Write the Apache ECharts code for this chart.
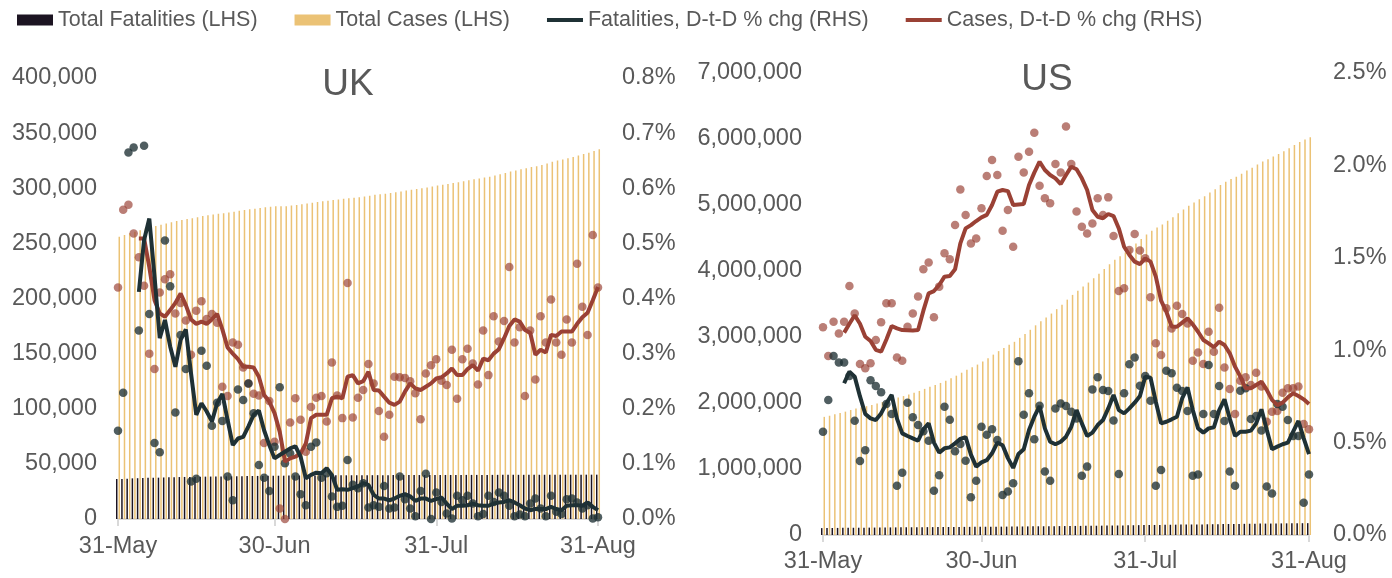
<!DOCTYPE html>
<html>
<head>
<meta charset="utf-8">
<script src="https://cdn.jsdelivr.net/npm/echarts@6/dist/echarts.min.js"></script>
<style>
  html, body { margin: 0; padding: 0; background: #fff; }
  #chart { width: 1392px; height: 578px; }
</style>
</head>
<body>
<div id="chart"></div>
<script>
const days = ['31-May',
  '1-Jun','2-Jun','3-Jun','4-Jun','5-Jun','6-Jun','7-Jun','8-Jun','9-Jun','10-Jun','11-Jun','12-Jun','13-Jun','14-Jun','15-Jun',
  '16-Jun','17-Jun','18-Jun','19-Jun','20-Jun','21-Jun','22-Jun','23-Jun','24-Jun','25-Jun','26-Jun','27-Jun','28-Jun','29-Jun','30-Jun',
  '1-Jul','2-Jul','3-Jul','4-Jul','5-Jul','6-Jul','7-Jul','8-Jul','9-Jul','10-Jul','11-Jul','12-Jul','13-Jul','14-Jul','15-Jul','16-Jul',
  '17-Jul','18-Jul','19-Jul','20-Jul','21-Jul','22-Jul','23-Jul','24-Jul','25-Jul','26-Jul','27-Jul','28-Jul','29-Jul','30-Jul','31-Jul',
  '1-Aug','2-Aug','3-Aug','4-Aug','5-Aug','6-Aug','7-Aug','8-Aug','9-Aug','10-Aug','11-Aug','12-Aug','13-Aug','14-Aug','15-Aug','16-Aug',
  '17-Aug','18-Aug','19-Aug','20-Aug','21-Aug','22-Aug','23-Aug','24-Aug','25-Aug','26-Aug','27-Aug','28-Aug','29-Aug','30-Aug','31-Aug'];
const tickLabels = ['31-May', '30-Jun', '31-Jul', '31-Aug'];

// UK
const ukCases = [256100, 257600, 259100, 260500, 261800, 263500, 265100, 265800, 266900, 268000,
  269200, 270200, 271200, 272100, 272900, 273800, 274800, 275600, 276200, 276800,
  277300, 277900, 278700, 279500, 280300, 280900, 281500, 282100, 282700, 283200,
  283600, 283700, 283700, 284300, 284900, 285500, 286200, 286900, 287500, 288100,
  288600, 289300, 289900, 290400, 291000, 291400, 291800, 292500, 293300, 294000,
  294600, 295100, 295600, 296400, 297100, 297900, 298600, 299300, 299900, 300700,
  301500, 302400, 303100, 303900, 304800, 305500, 306400, 307300, 308100, 308800,
  309800, 310500, 311600, 312700, 313800, 315200, 316200, 317300, 318100, 319200,
  320000, 321200, 322500, 324100, 325100, 326100, 327300, 328300, 329800, 331100,
  332200, 333900, 335300];
const ukDeaths = [36300, 36380, 36620, 36870, 37000, 37250, 37390, 37440, 37490, 37680,
  37840, 37910, 38040, 38140, 38170, 38200, 38320, 38420, 38490, 38570,
  38640, 38670, 38680, 38770, 38860, 38950, 39030, 39070, 39100, 39120,
  39170, 39260, 39300, 39350, 39380, 39400, 39410, 39460, 39510, 39540,
  39570, 39590, 39600, 39610, 39650, 39680, 39700, 39730, 39740, 39750,
  39760, 39780, 39790, 39800, 39830, 39840, 39850, 39850, 39870, 39900,
  39900, 39920, 39930, 39940, 39940, 39960, 39970, 39990, 40000, 40000,
  40000, 40020, 40030, 40050, 40070, 40080, 40080, 40080, 40090, 40100,
  40110, 40120, 40120, 40140, 40140, 40150, 40160, 40180, 40190, 40200,
  40210, 40210, 40210];
const ukDeathPct = [0.160, 0.229, 0.665, 0.674, 0.342, 0.677, 0.372, 0.138, 0.121, 0.505,
  0.422, 0.193, 0.334, 0.272, 0.068, 0.073, 0.305, 0.278, 0.169, 0.211,
  0.178, 0.077, 0.034, 0.235, 0.216, 0.246, 0.192, 0.098, 0.075, 0.051,
  0.131, 0.239, 0.101, 0.119, 0.077, 0.045, 0.025, 0.131, 0.139, 0.075,
  0.083, 0.041, 0.022, 0.024, 0.107, 0.062, 0.056, 0.065, 0.021, 0.025,
  0.022, 0.060, 0.019, 0.021, 0.077, 0.036, 0.019, 0.005, 0.051, 0.082,
  0.000, 0.048, 0.031, 0.010, 0.001, 0.042, 0.034, 0.042, 0.028, 0.005,
  0.009, 0.042, 0.031, 0.048, 0.042, 0.024, 0.005, 0.008, 0.005, 0.028,
  0.037, 0.019, 0.005, 0.042, 0.013, 0.009, 0.036, 0.037, 0.030, 0.019,
  0.025, 0.001, 0.003];
const ukDeathLine = [null, null, null, null, 0.412, 0.506, 0.545, 0.440, 0.328, 0.361,
  0.313, 0.276, 0.325, 0.344, 0.264, 0.189, 0.210, 0.195, 0.177, 0.210,
  0.227, 0.180, 0.134, 0.146, 0.149, 0.168, 0.189, 0.197, 0.161, 0.134,
  0.110, 0.116, 0.122, 0.128, 0.132, 0.113, 0.074, 0.080, 0.084, 0.083,
  0.092, 0.080, 0.053, 0.054, 0.053, 0.056, 0.059, 0.065, 0.062, 0.044,
  0.037, 0.037, 0.034, 0.037, 0.042, 0.045, 0.041, 0.033, 0.037, 0.037,
  0.033, 0.036, 0.039, 0.028, 0.018, 0.024, 0.024, 0.025, 0.028, 0.025,
  0.024, 0.024, 0.028, 0.030, 0.031, 0.034, 0.030, 0.025, 0.019, 0.016,
  0.018, 0.018, 0.018, 0.022, 0.018, 0.016, 0.024, 0.025, 0.025, 0.024,
  0.030, 0.022, 0.016];
const ukCasePct = [0.420, 0.561, 0.570, 0.518, 0.475, 0.423, 0.300, 0.272, 0.411, 0.435,
  0.444, 0.373, 0.392, 0.360, 0.298, 0.378, 0.395, 0.363, 0.372, 0.356,
  0.240, 0.223, 0.320, 0.316, 0.275, 0.246, 0.227, 0.224, 0.138, 0.214,
  0.140, 0.019, 0.000, 0.175, 0.219, 0.180, 0.122, 0.203, 0.220, 0.223,
  0.177, 0.284, 0.224, 0.183, 0.428, 0.184, 0.220, 0.234, 0.281, 0.246,
  0.196, 0.149, 0.189, 0.258, 0.257, 0.256, 0.250, 0.228, 0.181, 0.264,
  0.279, 0.290, 0.251, 0.243, 0.307, 0.218, 0.290, 0.309, 0.282, 0.244,
  0.342, 0.261, 0.368, 0.322, 0.359, 0.457, 0.320, 0.348, 0.223, 0.342,
  0.253, 0.368, 0.320, 0.398, 0.320, 0.298, 0.362, 0.320, 0.463, 0.385,
  0.334, 0.515, 0.420];
const ukCaseLine = [null, null, null, null, 0.509, 0.509, 0.457, 0.397, 0.373, 0.367,
  0.379, 0.392, 0.409, 0.388, 0.362, 0.354, 0.358, 0.354, 0.362, 0.372,
  0.344, 0.311, 0.300, 0.290, 0.276, 0.276, 0.275, 0.258, 0.225, 0.213,
  0.192, 0.158, 0.104, 0.110, 0.113, 0.119, 0.137, 0.183, 0.189, 0.189,
  0.189, 0.219, 0.222, 0.219, 0.258, 0.261, 0.246, 0.250, 0.267, 0.234,
  0.233, 0.222, 0.211, 0.207, 0.213, 0.231, 0.246, 0.237, 0.234, 0.240,
  0.246, 0.255, 0.257, 0.264, 0.273, 0.261, 0.261, 0.272, 0.279, 0.269,
  0.291, 0.288, 0.300, 0.308, 0.328, 0.350, 0.362, 0.358, 0.343, 0.338,
  0.298, 0.307, 0.302, 0.334, 0.332, 0.340, 0.340, 0.340, 0.354, 0.366,
  0.374, 0.397, 0.421];

// US
const usCases = [1790000, 1807000, 1828000, 1848000, 1869000, 1894000, 1917000, 1935000, 1952000, 1970000,
  1991000, 2014000, 2039000, 2065000, 2085000, 2105000, 2129000, 2155000, 2183000, 2214000,
  2247000, 2273000, 2304000, 2339000, 2374000, 2414000, 2459000, 2502000, 2541000, 2582000,
  2628000, 2679000, 2733000, 2786000, 2832000, 2882000, 2927000, 2987000, 3046000, 3109000,
  3177000, 3237000, 3296000, 3355000, 3422000, 3489000, 3566000, 3638000, 3702000, 3764000,
  3825000, 3889000, 3960000, 4029000, 4103000, 4169000, 4224000, 4280000, 4346000, 4417000,
  4485000, 4552000, 4611000, 4659000, 4704000, 4762000, 4815000, 4875000, 4933000, 4989000,
  5036000, 5086000, 5133000, 5189000, 5240000, 5304000, 5352000, 5394000, 5429000, 5474000,
  5521000, 5566000, 5615000, 5660000, 5695000, 5733000, 5771000, 5815000, 5861000, 5908000,
  5955000, 5991000, 6025000];
const usDeaths = [104400, 105200, 106200, 107200, 108200, 109100, 109800, 110200, 110700, 111700,
  112600, 113400, 114200, 115000, 115300, 115700, 116500, 117200, 117900, 118600,
  119200, 119500, 119900, 120700, 121500, 122000, 122600, 123100, 123400, 123700,
  124400, 125100, 125800, 126500, 126700, 127000, 127400, 128600, 129400, 130400,
  131100, 132000, 132500, 132900, 133800, 134700, 135700, 136600, 137400, 137900,
  138400, 139500, 140600, 141700, 142800, 143700, 144200, 145300, 146600, 148100,
  149300, 150500, 151600, 152000, 152600, 153900, 155300, 156500, 157700, 158800,
  159300, 159800, 160900, 162300, 163400, 164700, 165700, 166300, 166700, 168000,
  169400, 170400, 171500, 172500, 172900, 173300, 174500, 175700, 176800, 177800,
  178700, 179000, 179600];
const usDeathPct = [0.559, 0.731, 0.969, 0.933, 0.933, 0.860, 0.618, 0.400, 0.458, 0.838,
  0.806, 0.772, 0.709, 0.655, 0.267, 0.337, 0.716, 0.637, 0.595, 0.561,
  0.510, 0.240, 0.323, 0.694, 0.624, 0.453, 0.492, 0.402, 0.204, 0.294,
  0.586, 0.543, 0.572, 0.514, 0.216, 0.236, 0.280, 0.940, 0.651, 0.767,
  0.518, 0.700, 0.343, 0.294, 0.685, 0.712, 0.698, 0.667, 0.631, 0.321,
  0.370, 0.788, 0.853, 0.785, 0.779, 0.619, 0.330, 0.767, 0.924, 0.960,
  0.808, 0.860, 0.727, 0.267, 0.352, 0.889, 0.875, 0.797, 0.779, 0.671,
  0.321, 0.328, 0.655, 0.920, 0.655, 0.806, 0.617, 0.343, 0.267, 0.781,
  0.794, 0.628, 0.644, 0.565, 0.262, 0.225, 0.709, 0.694, 0.622, 0.536,
  0.536, 0.175, 0.328];
const usDeathLine = [null, null, null, null, 0.821, 0.884, 0.857, 0.750, 0.655, 0.631,
  0.622, 0.658, 0.712, 0.758, 0.630, 0.550, 0.536, 0.523, 0.510, 0.572,
  0.604, 0.500, 0.446, 0.469, 0.474, 0.496, 0.520, 0.530, 0.435, 0.370,
  0.393, 0.405, 0.442, 0.500, 0.486, 0.416, 0.363, 0.438, 0.464, 0.568,
  0.640, 0.698, 0.577, 0.505, 0.491, 0.505, 0.532, 0.586, 0.676, 0.604,
  0.536, 0.554, 0.595, 0.622, 0.685, 0.758, 0.676, 0.658, 0.685, 0.716,
  0.752, 0.857, 0.851, 0.721, 0.604, 0.613, 0.626, 0.640, 0.740, 0.799,
  0.676, 0.577, 0.554, 0.577, 0.583, 0.676, 0.734, 0.630, 0.536, 0.559,
  0.559, 0.565, 0.604, 0.680, 0.570, 0.464, 0.478, 0.491, 0.500, 0.559,
  0.617, 0.523, 0.438];
const usCasePct = [1.124, 0.969, 1.154, 1.091, 1.154, 1.347, 1.199, 0.925, 0.902, 0.929,
  1.055, 1.151, 1.254, 1.254, 0.961, 0.943, 1.127, 1.199, 1.290, 1.438,
  1.475, 1.178, 1.344, 1.524, 1.492, 1.677, 1.870, 1.732, 1.578, 1.605,
  1.768, 1.943, 2.029, 1.948, 1.647, 1.759, 1.560, 2.047, 1.961, 2.074,
  2.177, 1.890, 1.822, 1.795, 2.008, 1.962, 2.210, 2.008, 1.750, 1.668,
  1.632, 1.686, 1.822, 1.732, 1.827, 1.618, 1.320, 1.335, 1.542, 1.629,
  1.539, 1.497, 1.286, 1.037, 0.974, 1.227, 1.118, 1.241, 1.196, 1.145,
  0.943, 0.987, 0.925, 1.100, 0.992, 1.230, 0.907, 0.790, 0.655, 0.835,
  0.853, 0.812, 0.878, 0.803, 0.613, 0.667, 0.671, 0.770, 0.794, 0.794,
  0.803, 0.601, 0.572];
const usCaseLine = [null, null, null, null, 1.095, 1.143, 1.189, 1.143, 1.073, 1.050,
  1.002, 0.992, 1.058, 1.131, 1.118, 1.109, 1.108, 1.106, 1.109, 1.214,
  1.308, 1.320, 1.353, 1.398, 1.402, 1.438, 1.578, 1.659, 1.677, 1.699,
  1.719, 1.732, 1.786, 1.858, 1.867, 1.861, 1.786, 1.789, 1.791, 1.894,
  1.961, 2.020, 1.975, 1.948, 1.930, 1.899, 1.948, 1.993, 1.979, 1.930,
  1.867, 1.759, 1.722, 1.714, 1.737, 1.726, 1.659, 1.560, 1.515, 1.479,
  1.466, 1.497, 1.479, 1.398, 1.268, 1.208, 1.128, 1.127, 1.149, 1.172,
  1.140, 1.100, 1.055, 1.037, 1.016, 1.046, 1.028, 0.983, 0.911, 0.857,
  0.794, 0.794, 0.812, 0.830, 0.785, 0.731, 0.703, 0.716, 0.745, 0.767,
  0.752, 0.734, 0.709];

const FONT = "'Liberation Sans', Arial, sans-serif";
const TXT = '#595959';
const C_FAT_BAR = '#1c1422';
const C_CASE_BAR = '#ebc275';
const C_FAT_LINE = '#1f3135';
const C_CASE_LINE = '#9a4135';
// flat bar used as legend swatch for the two line series
const LINE_ICON = 'path://M0,0H36V4H0Z';

const showTick = (i, v) => tickLabels.indexOf(v) >= 0;

function xAxis(grid, margin) {
    return {
        type: 'category', gridIndex: grid, data: days, boundaryGap: false,
        axisLine: {lineStyle: {color: '#d9d9d9', width: 2}},
        axisTick: {interval: showTick, length: 7, lineStyle: {color: '#d9d9d9', width: 2}},
        axisLabel: {interval: showTick, color: TXT, fontSize: 23.5, fontFamily: FONT, margin: margin},
        splitLine: {show: false}
    };
}

function yAxis(grid, pos, max, step, fmt) {
    return {
        type: 'value', gridIndex: grid, position: pos, min: 0, max: max, interval: step,
        axisLine: {show: false}, axisTick: {show: false}, splitLine: {show: false},
        axisLabel: {color: TXT, fontSize: 23.5, fontFamily: FONT, margin: pos === 'left' ? 21 : 24, formatter: fmt}
    };
}

const numFmt = v => v.toLocaleString('en-US');
const pctFmt = v => v.toFixed(1) + '%';

function panelSeries(xi, yl, yr, cases, deaths, dPct, dLine, cPct, cLine) {
    return [
        {name: 'Total Fatalities (LHS)', type: 'bar', xAxisIndex: xi, yAxisIndex: yl, data: deaths,
            barWidth: 1.5, barGap: '70%', itemStyle: {color: C_FAT_BAR}, z: 1},
        {name: 'Total Cases (LHS)', type: 'bar', xAxisIndex: xi, yAxisIndex: yl, data: cases,
            barWidth: 1.5, barGap: '70%', itemStyle: {color: C_CASE_BAR}, z: 1},
        {name: 'cases daily', type: 'scatter', xAxisIndex: xi, yAxisIndex: yr,
            data: cPct.map((v, i) => [i, v]), symbolSize: 8.5,
            itemStyle: {color: C_CASE_LINE, opacity: 0.68}, z: 2},
        {name: 'fatalities daily', type: 'scatter', xAxisIndex: xi, yAxisIndex: yr,
            data: dPct.map((v, i) => [i, v]), symbolSize: 8.5,
            itemStyle: {color: C_FAT_LINE, opacity: 0.78}, z: 3},
        {name: 'Cases, D-t-D % chg (RHS)', type: 'line', xAxisIndex: xi, yAxisIndex: yr, data: cLine,
            symbol: 'none', lineStyle: {color: C_CASE_LINE, width: 4}, itemStyle: {color: C_CASE_LINE}, z: 4},
        {name: 'Fatalities, D-t-D % chg (RHS)', type: 'line', xAxisIndex: xi, yAxisIndex: yr, data: dLine,
            symbol: 'none', lineStyle: {color: C_FAT_LINE, width: 4}, itemStyle: {color: C_FAT_LINE}, z: 5}
    ];
}

const chart = echarts.init(document.getElementById('chart'));
chart.setOption({
    animation: false,
    backgroundColor: '#fff',
    textStyle: {fontFamily: FONT},
    title: [
        {text: 'UK', left: 343, top: 61, textAlign: 'center',
            textStyle: {color: TXT, fontSize: 37, fontWeight: 'normal', fontFamily: FONT}},
        {text: 'US', left: 1042, top: 56, textAlign: 'center',
            textStyle: {color: TXT, fontSize: 37, fontWeight: 'normal', fontFamily: FONT}}
    ],
    legend: {
        left: 12, top: 4, itemWidth: 36, itemHeight: 11, itemGap: 37,
        textStyle: {color: TXT, fontSize: 21.5, fontFamily: FONT},
        data: [
            {name: 'Total Fatalities (LHS)', icon: 'rect'},
            {name: 'Total Cases (LHS)', icon: 'rect'},
            {name: 'Fatalities, D-t-D % chg (RHS)', icon: LINE_ICON},
            {name: 'Cases, D-t-D % chg (RHS)', icon: LINE_ICON}
        ]
    },
    grid: [
        {left: 118, right: 794, top: 78, bottom: 59},
        {left: 823, right: 83, top: 73, bottom: 43}
    ],
    xAxis: [xAxis(0, 16), xAxis(1, 15)],
    yAxis: [
        yAxis(0, 'left', 400000, 50000, numFmt),
        yAxis(0, 'right', 0.8, 0.1, pctFmt),
        yAxis(1, 'left', 7000000, 1000000, numFmt),
        yAxis(1, 'right', 2.5, 0.5, pctFmt)
    ],
    series: [].concat(
        panelSeries(0, 0, 1, ukCases, ukDeaths, ukDeathPct, ukDeathLine, ukCasePct, ukCaseLine),
        panelSeries(1, 2, 3, usCases, usDeaths, usDeathPct, usDeathLine, usCasePct, usCaseLine)
    )
});

window.addEventListener('resize', function () {
    chart.resize();
});
</script>
</body>
</html>
